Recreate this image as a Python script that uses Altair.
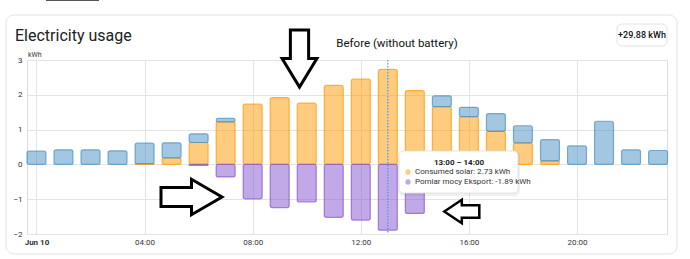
import altair as alt
import pandas as pd

# ---- data (kWh per hour) ----
hours = list(range(24))
solar = [0, 0, 0, 0, 0.02, 0.19, 0.63, 1.22, 1.73, 1.92, 1.76, 2.27,
         2.45, 2.73, 2.12, 1.66, 1.37, 0.95, 0.62, 0.10, 0, 0, 0, 0]
grid = [0.38, 0.42, 0.42, 0.39, 0.59, 0.43, 0.25, 0.10, 0, 0, 0, 0,
        0, 0, 0, 0.31, 0.27, 0.51, 0.49, 0.61, 0.53, 1.24, 0.42, 0.40]
export = [0, 0, 0, 0, 0, 0, -0.03, -0.36, -0.99, -1.24, -1.08, -1.52,
          -1.60, -1.89, -1.41, -0.55, -0.25, -0.05, 0, 0, 0, 0, 0, 0]
x_ticks = [0, 4, 8, 12, 16, 20]
y_ticks = [-2, -1, 0, 1, 2, 3]
series_names = ["Consumed solar", "Grid", "Pomiar mocy Eksport"]
series_colors = ["#ff9800", "#488fc2", "#8353d1"]

rows = []
for h, s, g, e in zip(hours, solar, grid, export):
    if s > 0:
        rows.append({"hour": h, "series": "Consumed solar", "y0": 0, "y1": s})
    if g > 0:
        rows.append({"hour": h, "series": "Grid", "y0": s, "y1": s + g})
    if e < 0:
        rows.append({"hour": h, "series": "Pomiar mocy Eksport", "y0": 0, "y1": e})
df = pd.DataFrame(rows)

FONT = "Roboto"
one = pd.DataFrame({"a": [0]})

x_scale = alt.Scale(domain=[-0.35, 23.33], nice=False, zero=False)
y_scale = alt.Scale(domain=[-2, 3], nice=False, zero=False)

bars = alt.Chart(df).transform_calculate(
    xa="datum.hour - 0.35", xb="datum.hour + 0.35"
).mark_bar(cornerRadius=2, strokeWidth=1.2, fillOpacity=0.5, strokeOpacity=0.7).encode(
    x=alt.X("xa:Q", scale=x_scale, title=None,
            axis=alt.Axis(values=x_ticks, grid=True, ticks=False, domain=False,
                          labelExpr="datum.value == 0 ? 'Jun 10' : (datum.value < 10 ? '0' + datum.value : datum.value) + ':00'",
                          labelFontWeight={"condition": {"test": "datum.value == 0", "value": "bold"}, "value": "normal"},
                          labelFontSize=8, labelColor="#333", labelPadding=4,
                          gridColor="#e4e4e4", labelFont=FONT)),
    x2="xb:Q",
    y=alt.Y("y0:Q", scale=y_scale, title=None,
            axis=alt.Axis(values=y_ticks, grid=True, ticks=False, domain=False,
                          labelFontSize=8, labelColor="#333", labelPadding=5,
                          gridColor="#e4e4e4", labelFont=FONT)),
    y2="y1:Q",
    color=alt.Color("series:N", scale=alt.Scale(domain=series_names, range=series_colors), legend=None),
    stroke=alt.Stroke("series:N", scale=alt.Scale(domain=series_names, range=series_colors), legend=None),
)

# hover line at 13:00
hover = alt.Chart(pd.DataFrame({"hour": [13]})).mark_rule(
    color="#3f9ee8", strokeDash=[1.5, 1.5], strokeWidth=1.2
).encode(x=alt.X("hour:Q", scale=x_scale), y=alt.value(0), y2=alt.value(174))

# card and header
card = alt.Chart(one).mark_rect(cornerRadius=8, fillOpacity=0, stroke="#e3e3e3", strokeWidth=1).encode(
    x=alt.value(-21), x2=alt.value(650), y=alt.value(-45), y2=alt.value(194))
tab = alt.Chart(one).mark_rect(color="#555").encode(
    x=alt.value(19), x2=alt.value(72), y=alt.value(-60), y2=alt.value(-59))
title = alt.Chart(one).mark_text(text="Electricity usage", align="left", baseline="alphabetic",
                                 fontSize=16, font=FONT, color="#212121").encode(
    x=alt.value(-12), y=alt.value(-19))
subtitle = alt.Chart(one).mark_text(text="Before (without battery)", align="center", baseline="alphabetic",
                                    fontSize=11.5, font=FONT, color="#111").encode(
    x=alt.value(370), y=alt.value(-13))
badge = alt.Chart(one).mark_rect(cornerRadius=5, fill="white", stroke="#e3e3e3").encode(
    x=alt.value(590), x2=alt.value(640), y=alt.value(-36), y2=alt.value(-14))
badge_text = alt.Chart(one).mark_text(text="+29.88 kWh", align="center", baseline="middle",
                                      fontSize=9, fontWeight=500, font=FONT, color="#111").encode(
    x=alt.value(615), y=alt.value(-25))
unit = alt.Chart(one).mark_text(text="kWh", align="left", baseline="middle",
                                fontSize=7, font=FONT, color="#333").encode(
    x=alt.value(1), y=alt.value(-5))

# tooltip box
shadow = alt.Chart(one).mark_rect(cornerRadius=5, color="#000", opacity=0.06).encode(
    x=alt.value(371), x2=alt.value(493), y=alt.value(91), y2=alt.value(136))
tip_box = alt.Chart(one).mark_rect(cornerRadius=4, fill="white", stroke="#dddddd", strokeWidth=0.8).encode(
    x=alt.value(372), x2=alt.value(491), y=alt.value(91), y2=alt.value(133))
tip_title = alt.Chart(one).mark_text(text="13:00 – 14:00", align="center", baseline="middle",
                                     fontSize=8, fontWeight="bold", font=FONT, color="#222").encode(
    x=alt.value(432), y=alt.value(103))
tip_dot1 = alt.Chart(one).mark_point(shape="circle", filled=True, size=28, color="#ffcc80", opacity=1).encode(
    x=alt.value(381), y=alt.value(112))
tip_dot2 = alt.Chart(one).mark_point(shape="circle", filled=True, size=28, color="#c1a9e8", opacity=1).encode(
    x=alt.value(381), y=alt.value(122))
tip_t1 = alt.Chart(one).mark_text(text="Consumed solar: 2.73 kWh", align="left", baseline="middle",
                                  fontSize=8, font=FONT, color="#333").encode(
    x=alt.value(388), y=alt.value(112))
tip_t2 = alt.Chart(one).mark_text(text="Pomiar mocy Eksport: -1.89 kWh", align="left", baseline="middle",
                                  fontSize=8, font=FONT, color="#333").encode(
    x=alt.value(388), y=alt.value(122))

# hand-drawn style arrows
down_path = "M-0.32,-1 L0.32,-1 L0.32,0 L0.61,0 L0,1 L-0.61,0 L-0.32,0 Z"
right_path = "M-1,-0.31 L0,-0.31 L0,-0.58 L1,0 L0,0.58 L0,0.31 L-1,0.31 Z"
left_path = "M-1,0 L0,-0.67 L0,-0.36 L1,-0.36 L1,0.36 L0,0.36 L0,0.67 Z"


def arrow(path, cx, cy, size, sw):
    return alt.Chart(one).mark_point(shape=path, filled=True, fill="white", stroke="black",
                                     strokeWidth=sw, opacity=1, strokeJoin="miter").encode(
        x=alt.value(cx), y=alt.value(cy), size=alt.value(size))


a_down = arrow(down_path, 272.5, -1.5, 3249, 3)
a_right = arrow(right_path, 164.5, 137, 3721, 3)
a_left = arrow(left_path, 434.8, 151.5, 1225, 2.5)

chart = alt.layer(
    card, tab, bars, hover, shadow, tip_box, tip_title, tip_dot1, tip_dot2, tip_t1, tip_t2,
    title, subtitle, badge, badge_text, unit, a_down, a_right, a_left
).properties(
    width=640, height=174,
    autosize=alt.AutoSizeParams(type="none"),
    padding={"left": 27, "top": 60, "right": 23, "bottom": 25},
    background="white",
).configure_view(stroke="#e0e0e0", strokeWidth=1).configure(font=FONT)

chart.save("out.html", embed_options={"renderer": "svg", "actions": False})
